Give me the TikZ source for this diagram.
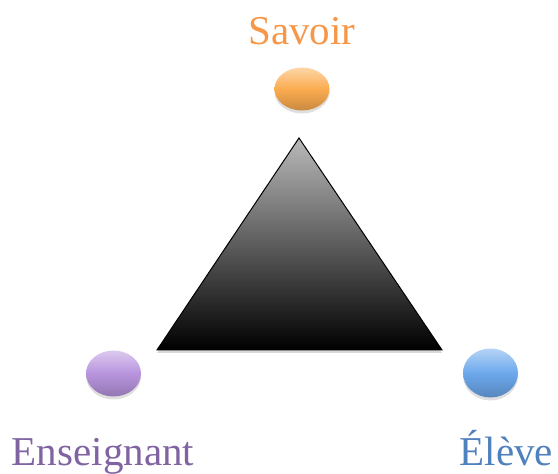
\documentclass[tikz,border=0pt]{standalone}
\usepackage{fontspec}
\setmainfont{Liberation Serif}
\usepackage{tikz}
\usetikzlibrary{shapes.geometric,shadows,positioning}
\definecolor{savoirTxt}{RGB}{247,150,70}
\definecolor{savoirBall}{RGB}{251,172,80}
\definecolor{ensTxt}{RGB}{128,100,162}
\definecolor{ensBall}{RGB}{184,148,222}
\definecolor{eleveTxt}{RGB}{79,129,189}
\definecolor{eleveBall}{RGB}{108,168,236}
\tikzset{
  pole/.style={draw=none, ellipse, minimum width=55pt, minimum height=46pt, inner sep=0pt,
    top color=#1!50!white, bottom color=#1!80!black, middle color=#1,
    drop shadow={shadow xshift=0pt, shadow yshift=-3pt, opacity=0.25}},
  lab/.style={font=\fontsize{41}{48}\selectfont, anchor=base, inner sep=0pt}
}
\begin{document}
\begin{tikzpicture}[x=1pt, y=1pt]
  \useasboundingbox (0,0) rectangle (558,474);
  % triangle
  \draw[line width=1pt, top color=gray!55, bottom color=black,
    drop shadow={shadow xshift=0pt, shadow yshift=-3pt, opacity=0.3}]
    (299,336) -- (157,124) -- (442,124) -- cycle;
  % poles
  \node[pole=savoirBall, minimum height=43pt] (savoir) at (302,385) {};
  \node[pole=ensBall] (ens) at (113.5,100.5) {};
  \node[pole=eleveBall, minimum height=49pt] (eleve) at (490.5,101) {};
  \node[lab, text=savoirTxt] (savoirLbl) at (302,429) {Savoir};
  \node[lab, text=ensTxt] (ensLbl) at (103,8) {Enseignant};
  \node[lab, text=eleveTxt] (eleveLbl) at (506.5,8) {Élève};
\end{tikzpicture}
\end{document}
